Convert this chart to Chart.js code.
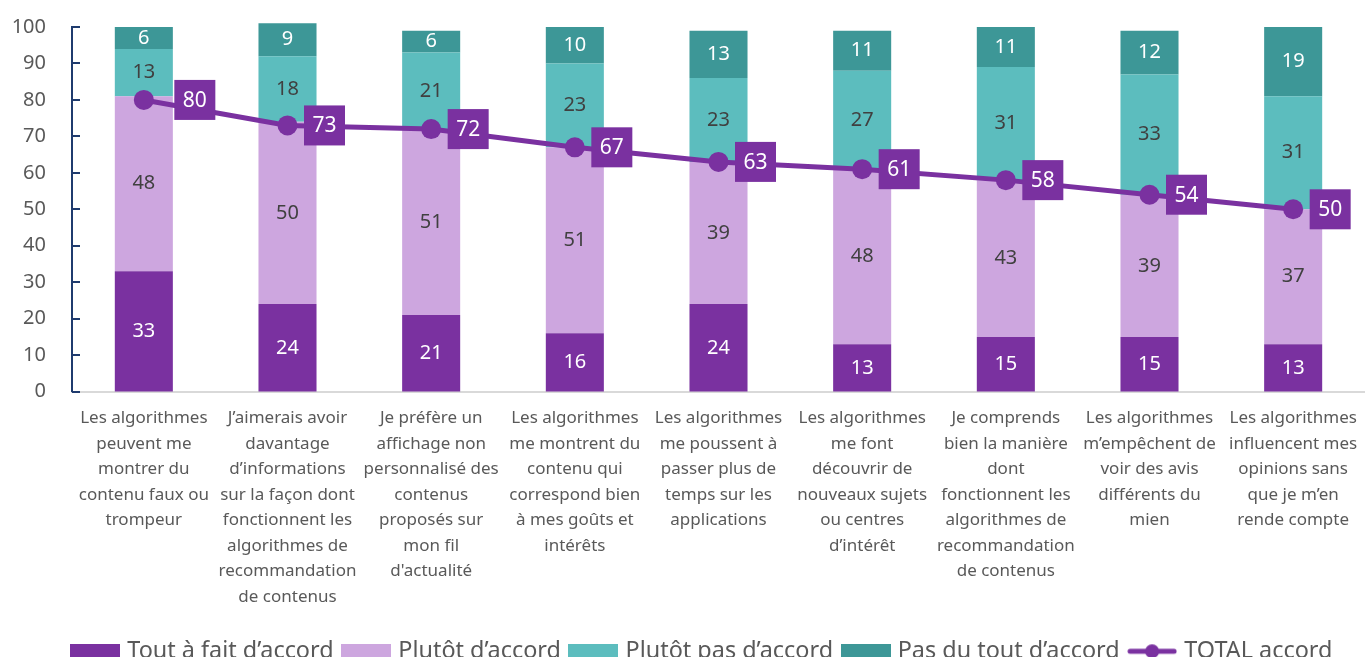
<!DOCTYPE html>
<html><head><meta charset="utf-8">
<script src="https://cdn.jsdelivr.net/npm/chart.js@4.4.1/dist/chart.umd.min.js"></script>
<style>html,body{margin:0;padding:0;overflow:hidden;background:#fff}canvas{display:block}</style>
</head><body>
<canvas id="c" width="1365" height="673"></canvas>
<script>
const categories = [
  ["Les algorithmes","peuvent me","montrer du","contenu faux ou","trompeur"],
  ["J’aimerais avoir","davantage","d’informations","sur la façon dont","fonctionnent les","algorithmes de","recommandation","de contenus"],
  ["Je préfère un","affichage non","personnalisé des","contenus","proposés sur","mon fil","d'actualité"],
  ["Les algorithmes","me montrent du","contenu qui","correspond bien","à mes goûts et","intérêts"],
  ["Les algorithmes","me poussent à","passer plus de","temps sur les","applications"],
  ["Les algorithmes","me font","découvrir de","nouveaux sujets","ou centres","d’intérêt"],
  ["Je comprends","bien la manière","dont","fonctionnent les","algorithmes de","recommandation","de contenus"],
  ["Les algorithmes","m’empêchent de","voir des avis","différents du","mien"],
  ["Les algorithmes","influencent mes","opinions sans","que je m’en","rende compte"]
];
const toutAFait    = [33,24,21,16,24,13,15,15,13];
const plutotAccord = [48,50,51,51,39,48,43,39,37];
const plutotPas    = [13,18,21,23,23,27,31,33,31];
const pasDuTout    = [6,9,6,10,13,11,11,12,19];
const totalAccord  = [80,73,72,67,63,61,58,54,50];
const seriesNames  = ["Tout à fait d’accord","Plutôt d’accord","Plutôt pas d’accord","Pas du tout d’accord","TOTAL accord"];
const yMin = 0, yMax = 100, yStep = 10;

const C_DARKP = '#7A31A0', C_LIGHTP = '#CDA6DF', C_TEAL = '#5CBDBE', C_DTEAL = '#3D9797';
const FONT = '"Noto Sans", "DejaVu Sans", sans-serif';

function boxIcon(color){
  const c = document.createElement('canvas'); c.width = 50; c.height = 14;
  const g = c.getContext('2d'); g.fillStyle = color; g.fillRect(0,0,50,14); return c;
}
function lineIcon(color){
  const c = document.createElement('canvas'); c.width = 50; c.height = 16;
  const g = c.getContext('2d'); g.strokeStyle = color; g.lineWidth = 5; g.lineCap = 'round';
  g.beginPath(); g.moveTo(3,8); g.lineTo(47,8); g.stroke();
  g.fillStyle = color; g.beginPath(); g.arc(25,8,7,0,Math.PI*2); g.fill(); return c;
}

const valueLabels = {
  id: 'valueLabels',
  afterLayout(chart, args, opts){
    if (chart.legend && opts.legendShift) { chart.legend.left += opts.legendShift; chart.legend.right += opts.legendShift; }
  },
  afterDatasetsDraw(chart, args, opts){
    const ctx = chart.ctx;
    ctx.save();
    const ys = chart.scales.y, left = chart.chartArea.left;
    ctx.strokeStyle = '#1F3B6E'; ctx.lineWidth = 2;
    ys.ticks.forEach(t => {
      const py = Math.round(ys.getPixelForValue(t.value));
      ctx.beginPath(); ctx.moveTo(left, py); ctx.lineTo(left + 8, py); ctx.stroke();
    });
    ctx.textAlign = 'center'; ctx.textBaseline = 'middle';
    chart.data.datasets.forEach((ds, i) => {
      const meta = chart.getDatasetMeta(i);
      if (!chart.isDatasetVisible(i)) return;
      meta.data.forEach((el, j) => {
        const v = ds.data[j];
        if (meta.type === 'bar') {
          ctx.fillStyle = ds.labelColor;
          ctx.font = '20px ' + FONT;
          ctx.fillText(String(v), el.x, (el.y + el.base) / 2);
        } else {
          const off = (opts.offsets && opts.offsets[j] != null) ? opts.offsets[j] : 37;
          const cx = el.x + off, cy = el.y;
          ctx.fillStyle = ds.borderColor;
          ctx.fillRect(cx - 20.5, cy - 20, 41, 40);
          ctx.fillStyle = '#FFFFFF';
          ctx.font = '21px ' + FONT;
          ctx.fillText(String(v), cx, cy + 1);
        }
      });
    });
    ctx.restore();
  }
};

const legendIcons = {0: lineIcon(C_DARKP), 1: boxIcon(C_DARKP), 2: boxIcon(C_LIGHTP), 3: boxIcon(C_TEAL), 4: boxIcon(C_DTEAL)};

new Chart(document.getElementById('c'), {
  type: 'bar',
  data: {
    labels: categories,
    datasets: [
      { type: 'line', label: seriesNames[4], data: totalAccord, order: 0, stack: 'total',
        borderColor: C_DARKP, backgroundColor: C_DARKP, borderWidth: 5,
        pointRadius: 10, pointHoverRadius: 10, pointBackgroundColor: C_DARKP, pointBorderWidth: 0, tension: 0 },
      { label: seriesNames[0], data: toutAFait, backgroundColor: C_DARKP, labelColor: '#FFFFFF', order: 1, stack: 's', clip: false },
      { label: seriesNames[1], data: plutotAccord, backgroundColor: C_LIGHTP, labelColor: '#404040', order: 1, stack: 's', clip: false },
      { label: seriesNames[2], data: plutotPas, backgroundColor: C_TEAL, labelColor: '#404040', order: 1, stack: 's', clip: false },
      { label: seriesNames[3], data: pasDuTout, backgroundColor: C_DTEAL, labelColor: '#FFFFFF', order: 1, stack: 's', clip: false }
    ]
  },
  options: {
    responsive: false,
    animation: false,
    layout: { autoPadding: false, padding: { top: 27, left: 0, right: 0, bottom: 0 } },
    datasets: { bar: { barPercentage: 0.404, categoryPercentage: 1 } },
    scales: {
      x: {
        stacked: true,
        grid: { display: false, drawTicks: true, tickLength: 14 },
        border: { display: true, color: '#D9D9D9', width: 2 },
        ticks: { color: '#595959', font: { family: FONT, size: 17, lineHeight: 1.5 }, padding: 0, autoSkip: false, maxRotation: 0 },
        afterFit(s){ s.height = 236; }
      },
      y: {
        stacked: true, min: yMin, max: yMax,
        grid: { display: false, drawTicks: true, tickLength: 26 },
        border: { display: true, color: '#1F3B6E', width: 2 },
        ticks: { stepSize: yStep, color: '#595959', font: { family: FONT, size: 20 }, padding: 0 },
        afterFit(s){ s.width = 72; }
      }
    },
    plugins: {
      tooltip: { enabled: false },
      valueLabels: { offsets: [51], legendShift: 21 },
      legend: {
        position: 'bottom',
        labels: {
          usePointStyle: true, pointStyleWidth: 41, boxHeight: 14, padding: 12,
          color: '#595959', font: { family: FONT, size: 23.4 },
          sort: (a, b) => ((a.datasetIndex === 0 ? 99 : a.datasetIndex) - (b.datasetIndex === 0 ? 99 : b.datasetIndex)),
          generateLabels(chart){
            const items = Chart.defaults.plugins.legend.labels.generateLabels(chart);
            items.forEach(it => { it.pointStyle = legendIcons[it.datasetIndex]; });
            return items;
          }
        }
      }
    }
  },
  plugins: [valueLabels]
});
</script>
</body></html>
